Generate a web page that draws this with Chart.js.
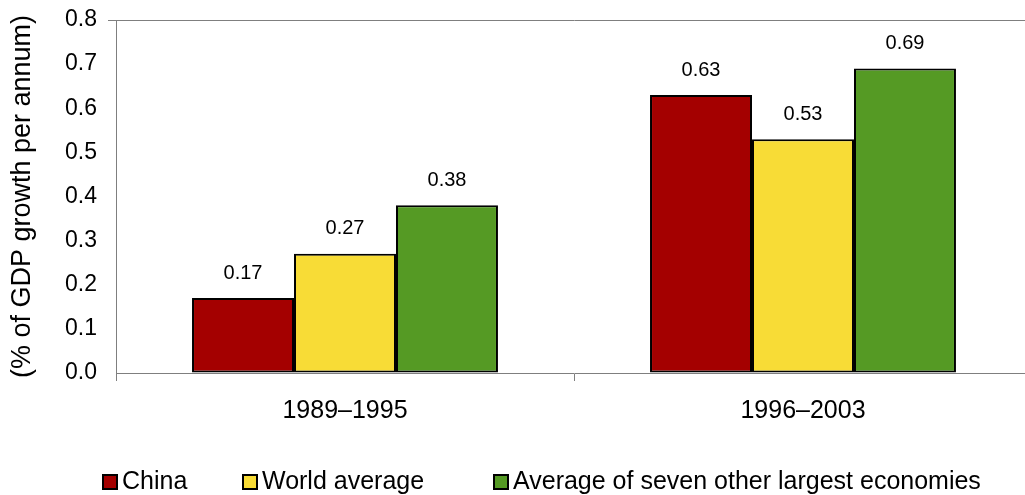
<!DOCTYPE html>
<html>
<head>
<meta charset="utf-8">
<script src="https://cdn.jsdelivr.net/npm/chart.js@4/dist/chart.umd.min.js"></script>
<style>
  html, body { margin: 0; padding: 0; background: #fff; overflow: hidden; }
  #wrap { width: 1040px; height: 495px; }
</style>
</head>
<body>
<div id="wrap"><canvas id="myChart" width="1040" height="495"></canvas></div>
<script>
const periods = ['1989–1995', '1996–2003'];
const china = [0.17, 0.63];
const worldAverage = [0.27, 0.53];
const otherLargest = [0.38, 0.69];
const yTicks = [0.0, 0.1, 0.2, 0.3, 0.4, 0.5, 0.6, 0.7, 0.8];

const FONT = "'Liberation Sans', Arial, sans-serif";
const AXIS = '#7f7f7f';

// value labels above each bar
const barLabels = {
    id: 'barLabels',
    afterDatasetsDraw(chart) {
        const ctx = chart.ctx;
        ctx.save();
        ctx.font = '20px ' + FONT;
        ctx.fillStyle = '#000';
        ctx.textAlign = 'center';
        ctx.textBaseline = 'middle';
        chart.data.datasets.forEach((ds, i) => {
            chart.getDatasetMeta(i).data.forEach((bar, j) => {
                ctx.fillText(ds.data[j].toFixed(2), bar.x, bar.y - 25);
            });
        });
        ctx.restore();
    }
};

// legend row under the axis, spaced like the original
const legendStarts = [103, 243, 494];
const bottomLegend = {
    id: 'bottomLegend',
    afterDraw(chart) {
        const ctx = chart.ctx;
        const y = 482;
        ctx.save();
        ctx.font = '25px ' + FONT;
        ctx.textBaseline = 'middle';
        ctx.textAlign = 'left';
        chart.data.datasets.forEach((ds, i) => {
            const x = legendStarts[i];
            ctx.fillStyle = ds.backgroundColor;
            ctx.fillRect(x, y - 7, 14, 14);
            ctx.strokeStyle = '#000';
            ctx.lineWidth = 2;
            ctx.strokeRect(x, y - 7, 14, 14);
            ctx.fillStyle = '#000';
            ctx.fillText(ds.label, x + 19, y);
        });
        ctx.restore();
    }
};

const ctx = document.getElementById('myChart').getContext('2d');
const chart = new Chart(ctx, {
    type: 'bar',
    data: {
        labels: periods,
        datasets: [
            { label: 'China', data: china, backgroundColor: '#A40000' },
            { label: 'World average', data: worldAverage, backgroundColor: '#F8DC36' },
            { label: 'Average of seven other largest economies', data: otherLargest, backgroundColor: '#559A24' }
        ].map(d => Object.assign(d, {
            borderColor: '#000',
            borderWidth: 2,
            borderSkipped: false,
            barPercentage: 1,
            categoryPercentage: 0.668
        }))
    },
    options: {
        responsive: false,
        animation: false,
        layout: { padding: { left: 0, right: 8, top: 20, bottom: 54 } },
        plugins: {
            tooltip: { enabled: false },
            legend: { display: false }
        },
        scales: {
            x: {
                grid: {
                    offset: true,
                    drawOnChartArea: false,
                    drawTicks: true,
                    tickLength: 8,
                    color: AXIS
                },
                border: { color: AXIS, width: 1 },
                ticks: {
                    color: '#000',
                    font: { family: FONT, size: 25 },
                    padding: 15
                }
            },
            y: {
                min: 0,
                max: 0.8,
                afterFit: s => {
                    s.width = 116;
                    s.paddingTop = 0;
                    s.paddingBottom = 0;
                },
                afterBuildTicks: s => { s.ticks = yTicks.map(v => ({ value: v })); },
                grid: {
                    drawOnChartArea: true,
                    drawTicks: true,
                    tickLength: 8,
                    color: c => (c.tick && c.tick.value === 0.8) ? AXIS : 'rgba(0,0,0,0)'
                },
                border: { color: AXIS, width: 1 },
                ticks: {
                    color: '#000',
                    font: { family: FONT, size: 23 },
                    padding: 11,
                    callback: v => Number(v).toFixed(1)
                },
                title: {
                    display: true,
                    text: '(% of GDP growth per annum)',
                    color: '#000',
                    font: { family: FONT, size: 27 },
                    padding: { top: 6, bottom: 0 }
                }
            }
        }
    },
    plugins: [barLabels, bottomLegend]
});
</script>
</body>
</html>
